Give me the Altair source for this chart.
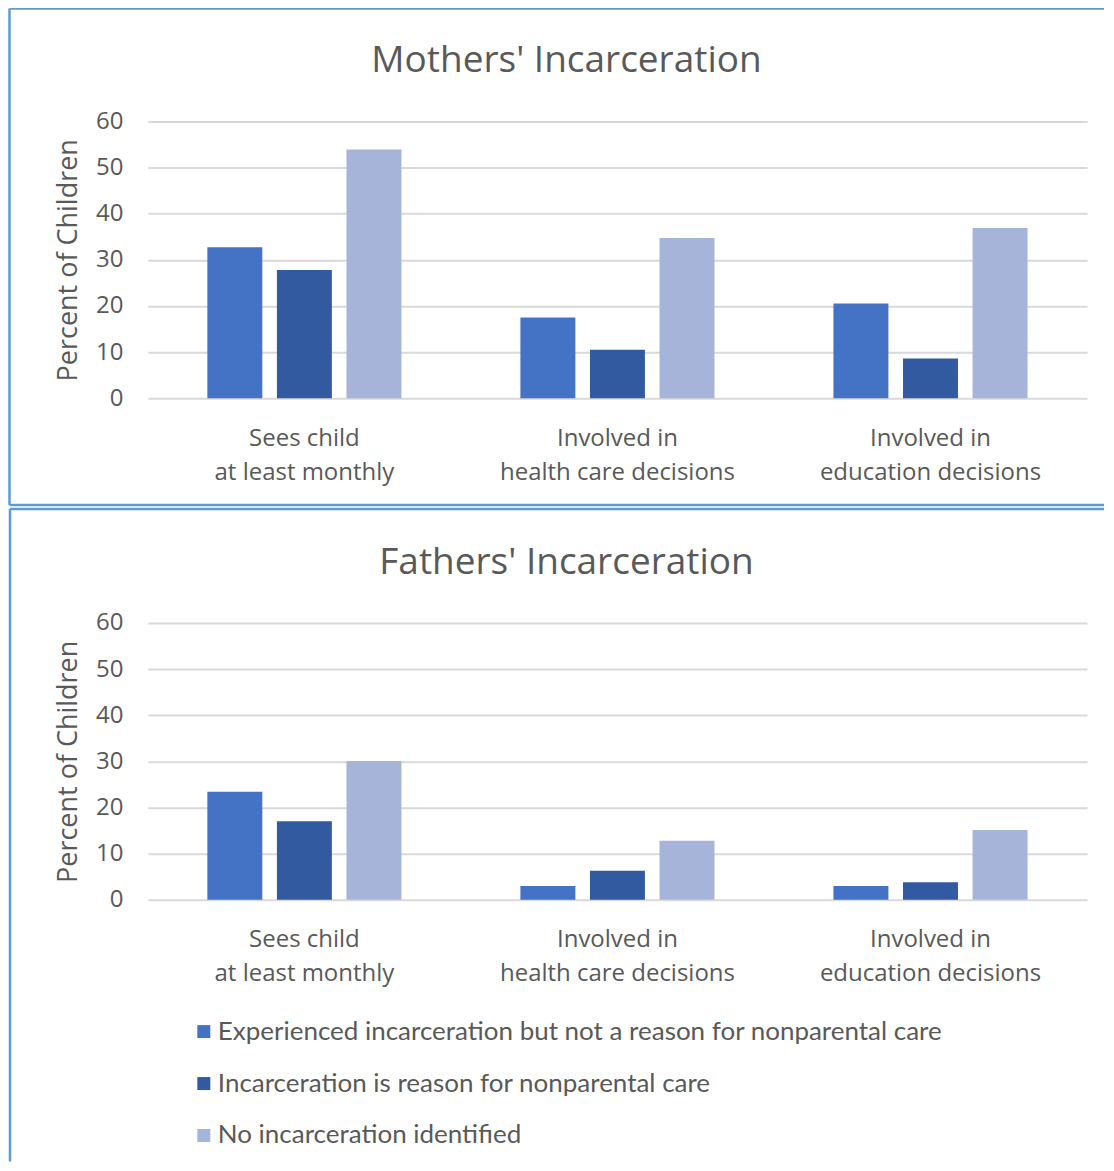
import altair as alt
import pandas as pd

categories = ["Sees child\nat least monthly", "Involved in\nhealth care decisions", "Involved in\neducation decisions"]
series = [
    "Experienced  incarceration but not a reason for nonparental care",
    "Incarceration is reason for nonparental care",
    "No incarceration identified",
]
colors = ["#4472C4", "#325AA0", "#A6B4DA"]
y_ticks = [0, 10, 20, 30, 40, 50, 60]

mothers_experienced = [32.7, 17.5, 20.5]
mothers_reason = [27.8, 10.5, 8.6]
mothers_none = [53.9, 34.7, 36.9]

fathers_experienced = [23.4, 3.0, 3.0]
fathers_reason = [17.0, 6.3, 3.8]
fathers_none = [30.1, 12.8, 15.1]

FRAME = "#5B9BD5"
TEXT = "#595959"
W, H = 940, 277


def long_df(vals):
    rows = []
    for s, arr in zip(series, vals):
        for c, v in zip(categories, arr):
            rows.append({"category": c, "series": s, "value": v})
    return pd.DataFrame(rows)


one = pd.DataFrame({"a": [0]})


def hline(x1, x2, y, color=FRAME):
    return alt.Chart(one).mark_rule(color=color, strokeWidth=2.5).encode(
        x=alt.value(x1), x2=alt.value(x2), y=alt.value(y)
    )


def vline(x, y1, y2, color=FRAME):
    return alt.Chart(one).mark_rule(color=color, strokeWidth=2.5).encode(
        x=alt.value(x), y=alt.value(y1), y2=alt.value(y2)
    )


def title_text(title):
    return alt.Chart(one).mark_text(
        fontSize=37, font="Open Sans", color=TEXT, align="center", baseline="alphabetic"
    ).encode(x=alt.value(419), y=alt.value(-49), text=alt.value(title))


def panel(title, vals, show_legend):
    df = long_df(vals)
    if show_legend:
        legend = alt.Legend(
            title=None, orient="none", legendX=43, legendY=396, direction="vertical",
            symbolType="square", symbolSize=169, symbolStrokeWidth=0,
            labelFontSize=26, labelFont="Lato", labelColor=TEXT, rowPadding=26,
            labelOffset=1, labelLimit=0,
        )
    else:
        legend = None
    bars = alt.Chart(df).mark_bar().encode(
        x=alt.X(
            "category:N", sort=categories,
            scale=alt.Scale(paddingInner=0.38, paddingOuter=0.19),
            axis=alt.Axis(
                title=None, labelExpr="split(datum.label, '\\n')", labelAngle=0,
                labelFontSize=24, labelLineHeight=34, labelColor=TEXT, labelPadding=28,
                labelFont="Open Sans", ticks=False, domain=False, grid=False, labelLimit=0,
            ),
        ),
        xOffset=alt.XOffset("series:N", sort=series, scale=alt.Scale(paddingInner=0.21, paddingOuter=0)),
        y=alt.Y(
            "value:Q", scale=alt.Scale(domain=[0, 60]),
            axis=alt.Axis(
                values=y_ticks, title="Percent of Children", titleFontSize=27,
                titleFontWeight="normal", titleColor=TEXT, titleFont="Open Sans",
                titlePadding=13, labelFontSize=24, labelColor=TEXT, labelFont="Open Sans",
                labelPadding=25, ticks=False, domain=False, grid=True,
                gridColor="#D9D9D9", gridWidth=2,
            ),
        ),
        color=alt.Color("series:N", sort=series, scale=alt.Scale(domain=series, range=colors), legend=legend),
    )
    if show_legend:
        frame = [
            vline(-141, -112, 0, color="white"),
            hline(-138, 957, -114), vline(-138, -114, 539),
        ]
    else:
        frame = [
            hline(-141, 957, -115, color="white"), vline(-141, -115, 384, color="white"),
            hline(-138.5, 957, -113), vline(-138.5, -113, 384), hline(-138.5, 957, 384),
        ]
    return alt.layer(bars, title_text(title), *frame).properties(width=W, height=H)


top = panel("Mothers' Incarceration", [mothers_experienced, mothers_reason, mothers_none], False)
bottom = panel("Fathers' Incarceration", [fathers_experienced, fathers_reason, fathers_none], True)

chart = alt.vconcat(top, bottom, spacing=0).resolve_scale(color="independent").resolve_legend(
    color="independent"
).properties(
    padding={"left": -3, "top": -4, "right": 0, "bottom": 0}, background="white"
).configure_view(stroke=None)

chart.save("out.html", embed_options={"renderer": "svg", "actions": False})
